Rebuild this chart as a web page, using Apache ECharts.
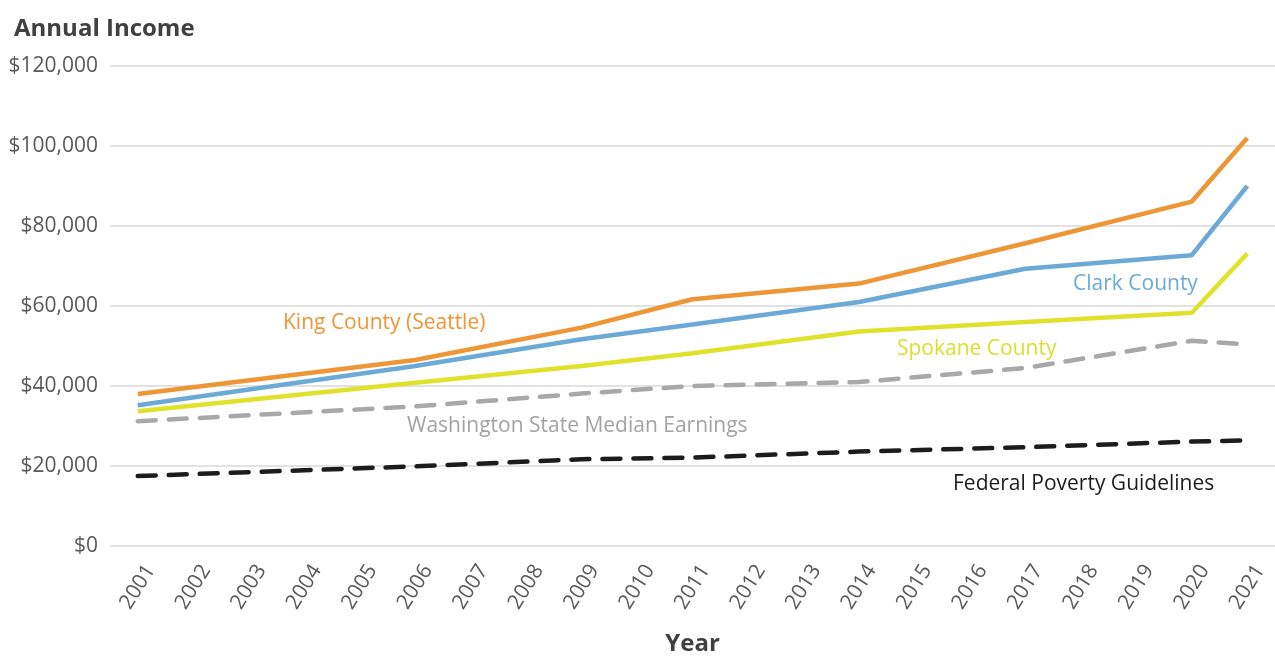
<!DOCTYPE html>
<html>
<head>
<meta charset="utf-8">
<script src="https://cdn.jsdelivr.net/npm/echarts@6/dist/echarts.min.js"></script>
<style>
  html, body { margin: 0; padding: 0; background: #fff; }
  #chart { width: 1275px; height: 661px; }
</style>
</head>
<body>
<div id="chart"></div>
<script>
// 年份
const years = ['2001', '2002', '2003', '2004', '2005', '2006', '2007', '2008', '2009', '2010', '2011',
  '2012', '2013', '2014', '2015', '2016', '2017', '2018', '2019', '2020', '2021'];

// only the surveyed years have values, the rest are null (lines connect across)
const kingCounty = [38000, null, null, null, null, 46500, null, null, 54600, null, 61700,
  null, null, 65600, null, null, 75700, null, null, 86100, 102000];
const clarkCounty = [35200, null, null, null, null, 45000, null, null, 51700, null, 55400,
  null, null, 61000, null, null, 69300, null, null, 72700, 90000];
const spokaneCounty = [33700, null, null, null, null, 40800, null, null, 45000, null, 48200,
  null, null, 53600, null, null, 56000, null, null, 58300, 73100];
const waMedian = [31200, null, null, null, null, 34900, null, null, 38100, null, 40000,
  null, null, 41000, null, null, 44500, null, null, 51300, 50400];
const povertyLine = [17500, null, null, null, null, 19900, null, null, 21700, null, 22100,
  null, null, 23600, null, null, 24700, null, null, 26100, 26400];

const yTicks = [0, 20000, 40000, 60000, 80000, 100000, 120000];

const FONT = '"Open Sans", Lato, sans-serif';

const chart = echarts.init(document.getElementById('chart'));

function lineSeries(name, data, color, dashed) {
  return {
    name: name,
    type: 'line',
    data: data,
    connectNulls: true,
    symbol: 'none',
    animation: false,
    lineStyle: {
      color: color,
      width: 4.5,
      type: dashed ? [18, 13] : 'solid',
      cap: dashed ? 'round' : 'butt'
    },
    itemStyle: { color: color }
  };
}

function note(text, x, y, color) {
  return {
    type: 'text',
    left: x,
    top: y - 12,
    style: {
      text: text,
      fill: color,
      font: '21px ' + FONT
    }
  };
}

let option = {
  backgroundColor: '#ffffff',
  animation: false,
  title: {
    text: 'Annual Income',
    left: 9,
    top: 12,
    textStyle: {
      color: '#404040',
      fontWeight: 'bold',
      fontFamily: FONT,
      fontSize: 24
    }
  },
  grid: {
    left: 110,
    right: -7,
    top: 66,
    bottom: 109,
    containLabel: false
  },
  xAxis: {
    type: 'category',
    data: years,
    boundaryGap: true,
    name: 'Year',
    nameLocation: 'middle',
    nameGap: 86,
    nameTextStyle: {
      color: '#404040',
      fontWeight: 'bold',
      fontFamily: FONT,
      fontSize: 24
    },
    axisLine: { show: false },
    axisTick: { show: false },
    axisLabel: {
      interval: 0,
      rotate: 58,
      margin: 41,
      align: 'center',
      verticalAlign: 'middle',
      color: '#595959',
      fontFamily: FONT,
      fontSize: 21
    }
  },
  yAxis: {
    type: 'value',
    min: yTicks[0],
    max: yTicks[yTicks.length - 1],
    interval: 20000,
    axisLine: { show: false },
    axisTick: { show: false },
    axisLabel: {
      margin: 12,
      color: '#595959',
      fontFamily: FONT,
      fontSize: 21,
      formatter: function (v) {
        return '$' + v.toLocaleString('en-US');
      }
    },
    splitLine: {
      lineStyle: { color: '#d9d9d9', width: 1.5 }
    }
  },
  series: [
    lineSeries('Federal Poverty Guidelines', povertyLine, '#1c1c1c', true),
    lineSeries('Washington State Median Earnings', waMedian, '#a8a8aa', true),
    lineSeries('Spokane County', spokaneCounty, '#dfe22b', false),
    lineSeries('Clark County', clarkCounty, '#6baad6', false),
    lineSeries('King County (Seattle)', kingCounty, '#ee9535', false)
  ],
  graphic: [
    note('King County (Seattle)', 283, 325, '#ee9535'),
    note('Clark County', 1073, 286, '#6baad6'),
    note('Spokane County', 897, 351, '#dcdf2a'),
    note('Washington State Median Earnings', 407, 428, '#a3a3a5'),
    note('Federal Poverty Guidelines', 953, 486, '#1c1c1c')
  ]
};

chart.setOption(option);
</script>
</body>
</html>
